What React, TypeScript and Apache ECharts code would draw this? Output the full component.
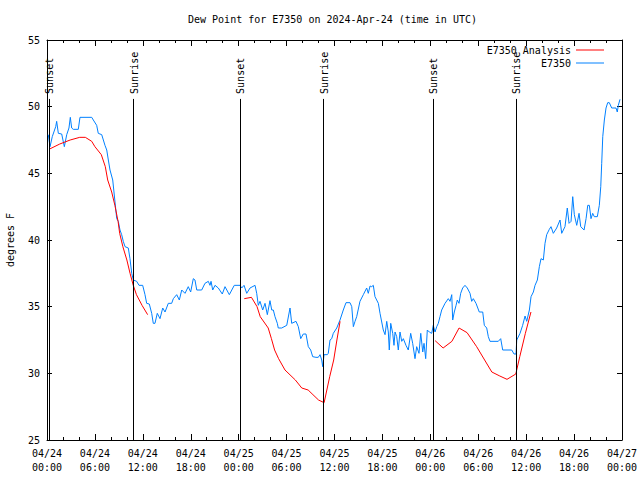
import React, { useEffect, useRef } from 'react';
import * as echarts from 'echarts';

const TITLE = 'Dew Point for E7350 on 2024-Apr-24 (time in UTC)';
const Y_NAME = 'degrees F';
const SERIES_ANALYSIS = 'E7350 Analysis';
const SERIES_OBS = 'E7350';
const DAY_LABELS = ['04/24', '04/25', '04/26', '04/27'];
const X_MIN = 0;
const X_MAX = 72;
const X_STEP = 6;
const Y_MIN = 25;
const Y_MAX = 55;
const Y_STEP = 5;

// hours since 2024-04-24 00:00 UTC
const analysisHours = [
  0.25, 1.6, 2.9, 4.1, 4.8, 5.6, 6.0, 6.8, 7.3, 7.6, 8.1, 8.5, 8.9, 9.1, 9.5, 10.0, 10.4, 10.8, 11.2, 11.9, 12.6,
  18,
  24.7, 25.6, 26.3, 26.7, 27.7, 28.1, 28.5, 29.0, 29.8, 31.1, 31.9, 32.7, 33.3, 34.0, 34.7, 35.4, 35.9, 36.3, 36.7,
  42,
  48.6, 49.6, 50.7, 51.6, 52.6, 53.8, 54.8, 55.7, 56.7, 57.6, 58.7, 59.2, 59.9, 60.6,
];
const analysisValues = [
  46.8, 47.2, 47.5, 47.7, 47.7, 47.4, 47.0, 46.4, 45.5, 44.5, 43.6, 42.6, 41.4, 40.5, 39.5, 38.5, 37.5, 36.6, 35.9, 35.1, 34.4,
  null,
  35.6, 35.7, 35.0, 34.25, 33.4, 32.6, 31.75, 31.1, 30.25, 29.5, 28.9, 28.75, 28.4, 28.0, 27.8, 29.75, 31.0, 32.5, 33.9,
  null,
  32.45, 31.9, 32.4, 33.4, 33.05, 32.0, 31.0, 30.1, 29.8, 29.55, 29.95, 31.25, 33.0, 34.6,
];

const obsHours = [
  0.16, 0.38, 0.66, 1.09, 1.21, 1.42, 1.84, 2.17, 2.47, 2.75, 2.92, 3.09, 3.29, 3.92, 4.13, 5.60, 5.80, 6.22, 6.42, 6.85,
  7.26, 7.48, 7.68, 7.89, 8.23, 8.73, 8.93, 9.14, 9.35, 9.55, 9.77, 10.18, 10.39, 10.61, 10.81, 11.23, 11.52, 11.98, 12.27, 12.48,
  12.81, 13.11, 13.31, 13.52, 13.81, 14.15, 14.49, 14.78, 15.19, 15.61, 15.82, 16.24, 16.57, 16.87, 17.28, 17.69, 17.99, 18.32, 18.53, 18.75,
  19.37, 19.78, 20.20, 20.41, 20.54, 20.75, 21.04, 21.45, 21.95, 22.29, 22.83, 23.45, 24.17, 24.38, 24.67, 25.01, 25.42, 26.05, 26.26, 26.46,
  26.67, 27.01, 27.30, 27.59, 27.92, 28.14, 28.34, 28.55, 28.84, 28.96, 29.39, 30.02, 30.43, 30.64, 31.18, 31.47, 31.77, 32.09, 32.43, 32.72,
  33.02, 33.27, 33.68, 33.97, 34.19, 34.40, 34.52, 34.69, 35.10, 35.22, 35.44, 35.65, 35.85, 36.28, 36.69, 37.10, 37.44, 37.94, 38.16, 38.36,
  38.57, 38.78, 39.19, 39.61, 40.03, 40.23, 40.45, 40.66, 40.86, 41.07, 41.49, 41.70, 42.11, 42.33, 42.54, 42.74, 42.86, 43.04, 43.29, 43.45,
  43.58, 43.79, 43.99, 44.20, 44.42, 44.62, 44.95, 45.24, 45.54, 45.79, 46.08, 46.29, 46.58, 46.80, 47.05, 47.21, 47.42, 47.62, 47.87, 48.17,
  48.37, 48.59, 48.80, 49.00, 49.21, 49.42, 49.84, 50.25, 50.47, 50.68, 50.80, 51.00, 51.22, 51.38, 51.59, 51.80, 52.05, 52.34, 52.63, 52.97,
  53.18, 53.38, 53.72, 54.13, 54.56, 54.76, 55.06, 55.26, 55.47, 56.51, 56.81, 57.06, 58.19, 58.48, 58.73, 58.82, 59.23, 59.56, 59.86, 60.07,
  60.40, 60.61, 60.90, 61.11, 61.40, 61.65, 61.86, 62.15, 62.36, 62.57, 62.90, 63.11, 63.40, 63.82, 64.24, 64.45, 64.86, 65.15, 65.37, 65.62,
  65.83, 66.03, 66.33, 66.62, 66.83, 67.25, 67.50, 67.71, 67.91, 68.12, 68.33, 68.53, 68.91, 69.16, 69.34, 69.46, 69.59, 69.79, 70.00, 70.21,
  70.41, 70.71, 71.25, 71.41, 71.54, 71.75,
];
const obsValues = [
  47.9, 47.0, 47.75, 48.5, 48.9, 48.0, 47.95, 47.0, 47.9, 48.4, 49.2, 48.4, 48.3, 48.3, 49.2, 49.2, 49.0, 48.6, 48.0, 47.9,
  47.1, 46.75, 46.0, 45.25, 44.5, 41.6, 41.4, 40.75, 40.4, 39.9, 39.5, 39.4, 38.6, 37.5, 37.0, 36.9, 36.6, 36.6, 35.9, 35.25,
  35.2, 34.5, 33.75, 33.75, 34.5, 34.1, 34.9, 34.6, 35.25, 35.25, 35.6, 35.9, 35.5, 36.25, 36.0, 36.5, 36.1, 37.1, 37.0, 36.25,
  36.25, 36.75, 36.9, 36.6, 36.9, 36.25, 36.6, 36.4, 35.95, 36.5, 35.9, 36.6, 36.6, 36.4, 36.6, 36.0, 36.4, 36.6, 36.0, 35.1,
  35.4, 34.75, 35.25, 34.4, 35.45, 34.75, 34.75, 34.25, 33.75, 33.4, 33.4, 33.6, 34.9, 33.75, 33.9, 33.5, 32.6, 32.95, 32.95, 32.0,
  31.75, 31.25, 31.2, 31.2, 31.4, 31.0, 30.5, 31.4, 31.4, 31.5, 32.5, 32.6, 33.0, 33.4, 34.0, 34.75, 35.3, 35.3, 35.0, 33.5,
  33.9, 34.25, 35.4, 35.9, 36.4, 36.0, 36.55, 36.5, 36.6, 35.75, 35.25, 34.5, 33.25, 32.9, 33.9, 33.1, 31.75, 33.75, 33.0, 32.1,
  33.1, 32.75, 31.75, 33.1, 32.4, 32.6, 32.1, 31.75, 33.0, 32.25, 31.1, 32.0, 31.5, 33.0, 31.6, 32.25, 31.1, 33.25, 33.1, 33.0,
  33.6, 33.1, 33.5, 33.75, 34.25, 34.75, 35.25, 35.6, 35.4, 35.9, 34.0, 34.6, 35.1, 35.5, 35.25, 36.0, 36.4, 36.6, 36.4, 36.0,
  35.4, 35.6, 35.25, 34.6, 34.6, 33.6, 33.4, 32.75, 32.4, 32.4, 32.6, 31.75, 31.75, 31.45, 31.45, 32.5, 33.0, 33.6, 34.3, 33.9,
  34.75, 35.75, 36.1, 36.6, 37.0, 38.0, 38.6, 38.5, 39.75, 40.4, 40.8, 41.0, 40.5, 40.9, 41.5, 40.5, 41.0, 42.4, 41.25, 41.4,
  43.25, 41.9, 41.1, 42.0, 41.0, 40.75, 41.6, 42.6, 42.6, 41.6, 42.0, 41.75, 41.75, 42.6, 44.0, 45.75, 47.75, 49.0, 49.9, 50.3,
  50.3, 49.9, 49.9, 49.6, 50.1, 50.55,
];

const sunLabels = ['Sunset', 'Sunrise', 'Sunset', 'Sunrise', 'Sunset', 'Sunrise'];
const sunHours = [0.22, 10.86, 24.17, 34.65, 48.37, 58.77];
const SUN_LINE_TOP = 50.58; // degrees F where the marker line stops (labels above)

const FONT = 'DejaVu Sans Mono';

export default function App() {
  const ref = useRef<HTMLDivElement>(null);

  useEffect(() => {
    if (!ref.current) return;
    const chart = echarts.init(ref.current, null, { renderer: 'svg' });

    const analysisData = analysisHours.map((h, i) => [h, analysisValues[i] === null ? '-' : analysisValues[i]]);
    const obsData = obsHours.map((h, i) => [h, obsValues[i]]);

    const xFmt = (v: number) => {
      const d = Math.floor(v / 24);
      const hh = v - d * 24;
      return `${DAY_LABELS[d]}\n${String(hh).padStart(2, '0')}:00`;
    };

    const axisCommon = {
      type: 'value' as const,
      axisLine: { show: true, onZero: false, lineStyle: { color: '#000', width: 1 } },
      splitLine: { show: false },
    };

    chart.setOption({
      animation: false,
      backgroundColor: '#fff',
      title: {
        text: TITLE,
        left: 183,
        top: 9,
        textStyle: { fontFamily: FONT, fontSize: 10, fontWeight: 'normal', color: '#000' },
      },
      legend: [
        {
          data: [SERIES_ANALYSIS],
          right: 31,
          top: 40,
          align: 'right',
          icon: 'rect',
          itemWidth: 28,
          itemHeight: 1,
          textStyle: { fontFamily: FONT, fontSize: 10, color: '#000' },
        },
        {
          data: [SERIES_OBS],
          right: 31,
          top: 53,
          align: 'right',
          icon: 'rect',
          itemWidth: 28,
          itemHeight: 1,
          textStyle: { fontFamily: FONT, fontSize: 10, color: '#000' },
        },
      ],
      grid: { left: 47, right: 18, top: 40, bottom: 40, containLabel: false, outerBoundsMode: 'none' },
      xAxis: [
        {
          ...axisCommon,
          min: X_MIN,
          max: X_MAX,
          interval: X_STEP,
          position: 'bottom',
          axisTick: { show: true, inside: true, length: 6, lineStyle: { color: '#000' } },
          minorTick: { show: true, splitNumber: 3, length: 3, lineStyle: { color: '#000' } },
          axisLabel: {
            formatter: xFmt,
            fontFamily: FONT,
            fontSize: 10,
            color: '#000',
            lineHeight: 14,
            margin: 6,
            showMinLabel: true,
            showMaxLabel: true,
          },
        },
        {
          ...axisCommon,
          min: X_MIN,
          max: X_MAX,
          interval: X_STEP,
          position: 'top',
          axisTick: { show: true, inside: true, length: 6, lineStyle: { color: '#000' } },
          minorTick: { show: true, splitNumber: 3, length: 3, lineStyle: { color: '#000' } },
          axisLabel: { show: false },
        },
      ],
      yAxis: [
        {
          ...axisCommon,
          min: Y_MIN,
          max: Y_MAX,
          interval: Y_STEP,
          position: 'left',
          name: Y_NAME,
          nameLocation: 'middle',
          nameRotate: 90,
          nameGap: 32,
          nameTextStyle: { fontFamily: FONT, fontSize: 10, color: '#000' },
          axisTick: { show: true, inside: true, length: 5, lineStyle: { color: '#000' } },
          axisLabel: { fontFamily: FONT, fontSize: 10, color: '#000', margin: 7 },
        },
        {
          ...axisCommon,
          min: Y_MIN,
          max: Y_MAX,
          interval: Y_STEP,
          position: 'right',
          axisTick: { show: true, inside: true, length: 5, lineStyle: { color: '#000' } },
          axisLabel: { show: false },
        },
      ],
      series: [
        {
          name: SERIES_ANALYSIS,
          type: 'line',
          data: analysisData,
          showSymbol: false,
          symbol: 'none',
          connectNulls: false,
          lineStyle: { color: '#ff0000', width: 1 },
          itemStyle: { color: '#ff0000' },
          z: 3,
        },
        {
          name: SERIES_OBS,
          type: 'line',
          data: obsData,
          showSymbol: false,
          symbol: 'none',
          lineStyle: { color: '#0080ff', width: 1 },
          itemStyle: { color: '#0080ff' },
          z: 2,
          markLine: {
            silent: true,
            symbol: 'none',
            label: { show: false },
            lineStyle: { color: '#000', width: 1, type: 'solid' },
            data: sunHours.map((h) => [{ coord: [h, Y_MIN] }, { coord: [h, SUN_LINE_TOP] }]),
          },
        },
      ],
    });

    const texts = sunHours.map((h, i) => {
      const p = chart.convertToPixel({ gridIndex: 0 }, [h, SUN_LINE_TOP]) as number[];
      return {
        type: 'text',
        x: Math.round(p[0]) + 0.5,
        y: p[1] - 5,
        rotation: Math.PI / 2,
        style: {
          text: sunLabels[i],
          fontFamily: FONT,
          fontSize: 10,
          fill: '#000',
          align: 'left',
          verticalAlign: 'middle',
        },
        z: 10,
      };
    });
    chart.setOption({ graphic: texts });

    return () => chart.dispose();
  }, []);

  return <div ref={ref} style={{ position: 'fixed', left: 0, top: 0, width: 640, height: 480 }} />;
}
